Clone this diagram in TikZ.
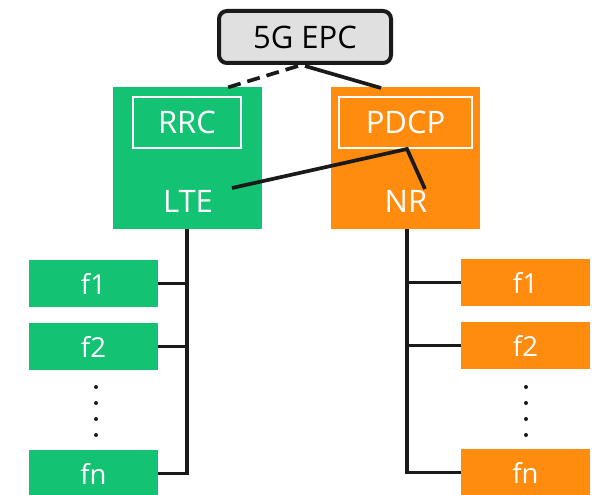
\documentclass[tikz,border=0pt]{standalone}
\usepackage{fontspec}
\setmainfont{Open Sans}
\definecolor{ltegreen}{HTML}{13C272}
\definecolor{nrorange}{HTML}{FF8C0F}
\definecolor{epcgrey}{HTML}{E0E0E0}
\definecolor{wire}{HTML}{1A1A1A}
\begin{document}
\begin{tikzpicture}[x=1pt,y=-1pt,
  every node/.style={inner sep=0pt,outer sep=0pt},
  bigbox/.style={minimum width=149pt,minimum height=142pt},
  layerbox/.style={draw=white,line width=2pt,minimum height=51pt},
  carrier/.style={minimum width=129pt,minimum height=47pt,text=white,font=\fontsize{27.5}{32}\selectfont},
  label/.style={text=white,font=\fontsize{31}{36}\selectfont},
  wireline/.style={draw=wire,line width=3.7pt},
  dotmark/.style={circle,fill=wire,minimum size=4pt}
]
\clip (0,0) rectangle (598,495);

% core network
\node[draw=wire,line width=4pt,fill=epcgrey,rounded corners=8pt,
      minimum width=172pt,minimum height=52pt,
      font=\fontsize{31}{36}\selectfont] (epc) at (305,37) {5G EPC};

% radio access nodes
\node[bigbox,fill=ltegreen] (lte) at (187.5,158) {};
\node[bigbox,fill=nrorange] (nr) at (405.5,158) {};
\node[layerbox,minimum width=108pt,label] (rrc) at (187,122.5) {RRC};
\node[layerbox,minimum width=133pt,label] (pdcp) at (405.5,122.5) {PDCP};
\node[label] (ltetxt) at (188,201) {LTE};
\node[label] (nrtxt) at (406,201) {NR};

% links to the core
\coordinate (epcL) at (298,66);
\coordinate (epcR) at (305,66);
\coordinate (lteTop) at (226,88);
\coordinate (nrTop) at (381,88);
\draw[wireline,dash pattern=on 13pt off 7pt] (epcL) -- (lteTop);
\draw[wireline] (epcR) -- (nrTop);

% split bearer through PDCP
\coordinate (lteEnd) at (232,188);
\coordinate (pdcpKnee) at (407,149);
\coordinate (nrEnd) at (425,189);
\draw[wireline] (lteEnd) -- (pdcpKnee) -- (nrEnd);

% LTE carriers
\node[carrier,fill=ltegreen] (lf1) at (93.5,283.5) {f1};
\node[carrier,fill=ltegreen] (lf2) at (93.5,346.5) {f2};
\node[carrier,fill=ltegreen] (lfn) at (93.5,473.5) {fn};
\coordinate (lbus) at (187,229);
\draw[wireline] (lbus) |- (lfn.east);
\draw[wireline] (lf1.east) -- (lf1.east -| lbus);
\draw[wireline] (lf2.east) -- (lf2.east -| lbus);
\foreach \y [count=\i] in {387,403,419,435}
  \node[dotmark] (ldot\i) at (96,\y) {};

% NR carriers
\node[carrier,fill=nrorange] (rf1) at (525.5,282.5) {f1};
\node[carrier,fill=nrorange] (rf2) at (525.5,345.5) {f2};
\node[carrier,fill=nrorange] (rfn) at (525.5,472.5) {fn};
\coordinate (rbus) at (407,229);
\draw[wireline] (rbus) |- (rfn.west);
\draw[wireline] (rf1.west) -- (rf1.west -| rbus);
\draw[wireline] (rf2.west) -- (rf2.west -| rbus);
\foreach \y [count=\i] in {387,403,419,435}
  \node[dotmark] (rdot\i) at (526,\y) {};
\end{tikzpicture}
\end{document}
